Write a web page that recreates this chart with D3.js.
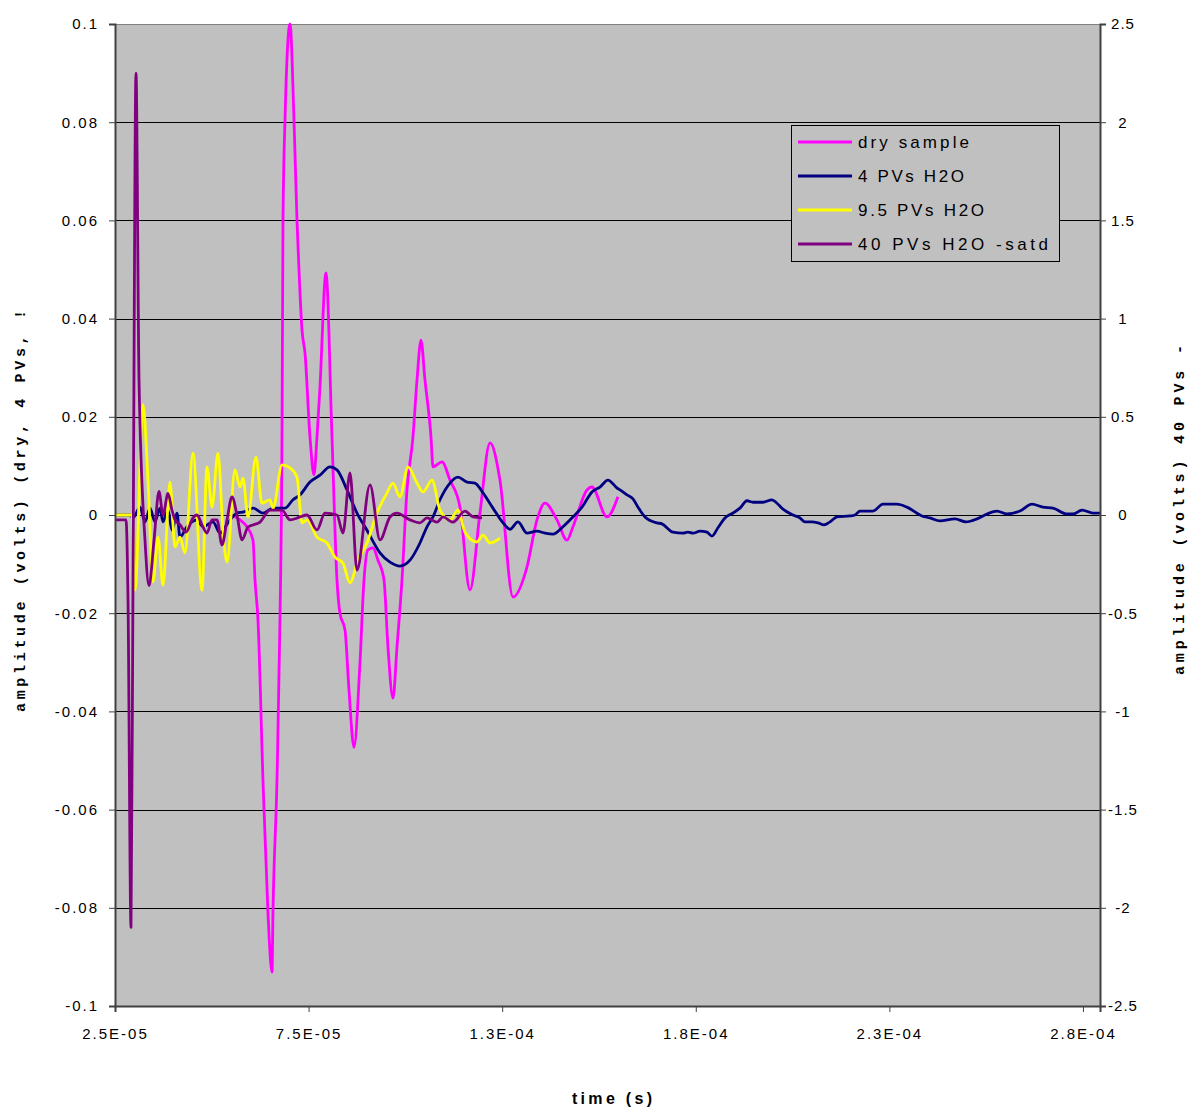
<!DOCTYPE html>
<html><head><meta charset="utf-8">
<script src="https://cdn.jsdelivr.net/npm/d3@7"></script>
<style>body{margin:0;background:#fff}</style></head>
<body><svg id="c" width="1190" height="1110"></svg>
<script>
// time in microseconds
const seriesNames = ["dry sample", "4 PVs H2O", "9.5 PVs H2O", "40 PVs H2O -satd"];
const seriesColors = ["#FF00FF", "#000080", "#FFFF00", "#800080"];

const pinkT = [55.22,57.28,59.09,60.64,61.16,61.93,63.22,64.51,65.55,65.80,66.84,67.61,68.13,68.39,68.91,70.20,71.23,72.00,72.52,73.30,74.07,75.36,76.39,77.17,77.94,79.49,81.04,82.33,83.10,84.40,85.43,86.72,88.27,89.31,90.34,91.63,92.92,94.47,95.50,96.80,97.83,99.12,100.41,101.96,103.00,104.03,105.06,106.61,107.13,109.45,111.52,114.10,116.68,119.26,121.85,124.43,127.79,131.40,133.99,136.05,139.15,141.73,143.28,146.90,148.19,152.06,154.90];
const pinkV = [0,-0.0010,-0.0024,-0.0051,-0.0132,-0.0214,-0.0540,-0.0811,-0.0931,-0.0811,-0.0540,-0.0214,0.0159,0.0601,0.0805,0.1000,0.0805,0.0601,0.0499,0.0377,0.0330,0.0159,0.0082,0.0159,0.0261,0.0493,0.0159,-0.0132,-0.0200,-0.0234,-0.0356,-0.0473,-0.0301,-0.0132,-0.0071,-0.0067,-0.0092,-0.0132,-0.0269,-0.0373,-0.0269,-0.0132,0.0051,0.0159,0.0275,0.0356,0.0275,0.0159,0.0098,0.0108,0.0071,0.0016,-0.0153,0.0004,0.0147,0.0071,-0.0167,-0.0106,-0.0010,0.0024,-0.0010,-0.0051,-0.0024,0.0051,0.0057,-0.0004,0.0037];

const navyT = [25.00,28.87,29.65,31.46,32.75,34.04,35.33,36.62,37.40,38.69,39.72,41.01,41.79,43.59,46.18,47.73,50.31,52.12,54.18,56.51,58.06,60.64,63.22,65.80,68.90,70.97,72.78,75.36,77.94,80.53,82.33,84.92,87.50,90.08,93.44,96.02,98.60,101.19,103.77,105.58,107.13,108.93,111.52,113.58,115.91,117.97,120.04,122.62,125.21,127.01,129.08,131.40,133.99,136.05,138.12,140.70,143.28,145.61,148.19,150.26,152.32,154.65,155.42,157.23,158.78,160.07,161.88,164.98,166.27,169.11,171.69,172.98,174.27,176.08,177.89,179.18,180.73,182.54,184.60,186.41,188.22,189.77,192.35,194.68,195.97,197.52,200.10,201.91,203.20,205.01,206.56,208.11,209.66,211.46,214.82,216.11,217.40,220.76,223.34,226.96,229.54,233.42,235.48,238.06,241.94,244.78,247.62,250.20,252.79,255.37,258.73,261.82,264.67,267.25,270.87,272.42,274.74,277.58,279.39];
const navyV = [0,0,-0.0006,0.0016,-0.0014,0.0014,-0.0014,0.0014,-0.0014,0.0010,-0.0031,0.0004,-0.0045,-0.0024,-0.0010,-0.0024,-0.0014,-0.0037,-0.0016,0.0004,0.0006,0.0014,0.0004,0.0014,0.0014,0.0031,0.0041,0.0067,0.0081,0.0098,0.0092,0.0051,0.0004,-0.0031,-0.0077,-0.0096,-0.0104,-0.0092,-0.0057,-0.0024,-0.0004,0.0031,0.0065,0.0077,0.0067,0.0065,0.0045,0.0014,-0.0016,-0.0029,-0.0014,-0.0037,-0.0033,-0.0037,-0.0039,-0.0024,-0.0004,0.0016,0.0047,0.0057,0.0071,0.0055,0.0051,0.0041,0.0033,0.0016,-0.0004,-0.0016,-0.0018,-0.0035,-0.0037,-0.0035,-0.0037,-0.0033,-0.0035,-0.0043,-0.0026,-0.0006,0.0004,0.0014,0.0029,0.0026,0.0026,0.0031,0.0024,0.0012,0,-0.0006,-0.0014,-0.0014,-0.0016,-0.0020,-0.0014,-0.0004,-0.0002,0,0.0008,0.0008,0.0022,0.0022,0.0016,-0.0002,-0.0006,-0.0012,-0.0008,-0.0014,-0.0008,0.0002,0.0008,0.0002,0.0008,0.0022,0.0016,0.0014,0.0002,0.0002,0.0010,0.0004,0.0004];

const yellowT = [25.00,29.39,30.17,32.23,33.52,34.81,36.11,37.40,39.20,40.50,41.79,43.08,45.14,47.47,48.76,50.05,51.60,52.89,53.93,55.99,57.28,58.06,59.35,61.41,62.96,65.03,65.81,68.13,70.20,72.00,73.30,74.59,77.17,79.75,81.82,83.88,85.69,87.76,90.08,92.66,95.25,96.80,98.60,100.67,103.00,104.54,106.87,108.93,111.52,113.58,115.39,118.49,120.04,121.85,124.43];
const yellowV = [0,0,-0.0153,0.0224,0.0071,-0.0136,-0.0045,-0.0143,0.0067,-0.0065,-0.0045,-0.0077,0.0126,-0.0153,0.0098,0.0016,0.0126,-0.0031,-0.0096,0.0092,0.0057,0.0075,-0.0004,0.0118,0.0024,0.0031,0.0014,0.0102,0.0096,0.0077,-0.0016,-0.0010,-0.0045,-0.0057,-0.0086,-0.0098,-0.0138,-0.0092,-0.0057,0.0004,0.0045,0.0065,0.0037,0.0098,0.0065,0.0047,0.0071,0.0010,-0.0010,0.0010,-0.0035,-0.0055,-0.0041,-0.0057,-0.0047];

const purpleT = [25.00,27.84,28.36,29.13,29.65,30.42,31.20,32.75,33.78,35.07,36.36,37.40,38.69,39.72,40.50,41.79,43.34,45.14,46.18,47.47,48.76,50.05,51.34,52.63,53.93,55.22,56.51,57.80,59.35,62.45,65.03,68.13,70.20,72.78,74.59,77.17,79.23,82.33,83.88,85.69,87.50,90.86,93.44,96.02,97.83,101.19,103.77,105.58,108.16,109.71,112.29,115.39,117.46,119.78];
const purpleV = [-0.025,-0.025,-0.43,-2.10,-0.33,2.25,0.69,-0.13,-0.36,-0.13,0.12,0.00,0.11,0.025,-0.025,-0.05,-0.087,-0.015,0.00,-0.05,-0.092,-0.025,-0.025,-0.153,-0.025,0.092,0.00,-0.127,-0.061,-0.036,0.025,0.025,-0.025,-0.01,0.00,-0.076,0.01,0.00,-0.092,0.214,-0.28,0.153,-0.127,-0.01,0.01,-0.025,-0.04,-0.015,-0.036,-0.01,-0.036,0.02,-0.01,-0.015];

const leftTicks = [0.1,0.08,0.06,0.04,0.02,0,-0.02,-0.04,-0.06,-0.08,-0.1];
const leftTickLabels = ["0.1","0.08","0.06","0.04","0.02","0","-0.02","-0.04","-0.06","-0.08","-0.1"];
const rightTicks = [2.5,2,1.5,1,0.5,0,-0.5,-1,-1.5,-2,-2.5];
const rightTickLabels = ["2.5","2","1.5","1","0.5","0","-0.5","-1","-1.5","-2","-2.5"];
const xTicks = [25,75,125,175,225,275];
const xTickLabels = ["2.5E-05","7.5E-05","1.3E-04","1.8E-04","2.3E-04","2.8E-04"];

const L=115,R=1100,T=24,B=1006;
const svg=d3.select("#c");
const x=d3.scaleLinear().domain([25,279.4]).range([L,R]);
const yL=d3.scaleLinear().domain([-0.1,0.1]).range([B,T]);
const yR=d3.scaleLinear().domain([-2.5,2.5]).range([B,T]);

svg.append("rect").attr("x",L).attr("y",T).attr("width",R-L).attr("height",B-T).attr("fill","#C0C0C0");
svg.append("g").selectAll("line").data(leftTicks).join("line")
  .attr("x1",L).attr("x2",R).attr("y1",d=>Math.round(yL(d))+0.5).attr("y2",d=>Math.round(yL(d))+0.5)
  .attr("stroke",(d,i)=>i===0?"#808080":"#000").attr("stroke-width",1);

svg.append("defs").append("clipPath").attr("id","clip").append("rect")
  .attr("x",L).attr("y",T-2).attr("width",R-L).attr("height",B-T+2);

const series=[
  {t:pinkT,v:pinkV,y:yL,c:seriesColors[0]},
  {t:navyT,v:navyV,y:yL,c:seriesColors[1]},
  {t:yellowT,v:yellowV,y:yL,c:seriesColors[2]},
  {t:purpleT,v:purpleV,y:yR,c:seriesColors[3]}
];
const g=svg.append("g").attr("clip-path","url(#clip)");
series.forEach(s=>{
  const pts=s.t.map((t,i)=>[t,s.v[i]]);
  const line=d3.line().x(d=>x(d[0])).y(d=>s.y(d[1])).curve(d3.curveMonotoneX);
  g.append("path").attr("d",line(pts)).attr("fill","none").attr("stroke",s.c)
   .attr("stroke-width",2.8).attr("stroke-linejoin","round");
});

const tickFont="'Liberation Sans', Arial, sans-serif";
const ax=svg.append("g").attr("transform",`translate(${L},0)`)
  .call(d3.axisLeft(yL).tickValues(leftTicks).tickFormat((d,i)=>leftTickLabels[i]).tickSize(6).tickPadding(10));
ax.select(".domain").attr("stroke","#404040").attr("stroke-width",2);
ax.selectAll(".tick line").attr("stroke","#404040");
ax.selectAll("text").attr("font-family",tickFont).attr("font-size",15).attr("letter-spacing","2px").attr("fill","#000");

const ar=svg.append("g").attr("transform",`translate(${R},0)`)
  .call(d3.axisRight(yR).tickValues(rightTicks).tickFormat((d,i)=>rightTickLabels[i]).tickSize(6).tickPadding(8));
ar.select(".domain").attr("stroke","#404040").attr("stroke-width",2);
ar.selectAll(".tick line").attr("stroke","#404040");
ar.selectAll("text").attr("font-family",tickFont).attr("font-size",15).attr("letter-spacing","1px").attr("fill","#000")
  .attr("text-anchor","middle").attr("x",23);

const ab=svg.append("g").attr("transform",`translate(0,${B})`)
  .call(d3.axisBottom(x).tickValues(xTicks).tickFormat((d,i)=>xTickLabels[i]).tickSize(6).tickPadding(16));
ab.select(".domain").attr("stroke","#404040").attr("stroke-width",2);
ab.selectAll(".tick line").attr("stroke","#404040");
ab.selectAll("text").attr("font-family",tickFont).attr("font-size",15).attr("letter-spacing","2px").attr("fill","#000");

const titleFont="'Liberation Mono', 'Courier New', monospace";
svg.append("text").attr("transform","translate(25,511) rotate(-90)").attr("text-anchor","middle")
  .attr("font-family",titleFont).attr("font-weight","bold").attr("font-size",15)
  .attr("textLength",402).attr("lengthAdjust","spacing")
  .text("amplitude (volts) (dry, 4 PVs, !");
svg.append("text").attr("transform","translate(1184,510) rotate(-90)").attr("text-anchor","middle")
  .attr("font-family",titleFont).attr("font-weight","bold").attr("font-size",15)
  .attr("textLength",330).attr("lengthAdjust","spacing")
  .text("amplitude (volts) 40 PVs -");
svg.append("text").attr("x",612).attr("y",1104).attr("text-anchor","middle")
  .attr("font-family",tickFont).attr("font-weight","bold").attr("font-size",16)
  .attr("textLength",80).attr("lengthAdjust","spacing")
  .text("time (s)");

const lg=svg.append("g");
lg.append("rect").attr("x",791.5).attr("y",125.5).attr("width",268).attr("height",136)
  .attr("fill","#C0C0C0").attr("stroke","#000").attr("stroke-width",1);
const legY=[142,176,210,244];
const legLen=[111,106,126,190];
seriesNames.forEach((n,i)=>{
  lg.append("line").attr("x1",798).attr("x2",852).attr("y1",legY[i]).attr("y2",legY[i])
    .attr("stroke",seriesColors[i]).attr("stroke-width",2.8);
  lg.append("text").attr("x",858).attr("y",legY[i]+6).attr("font-family",tickFont).attr("font-size",17)
    .attr("textLength",legLen[i]).attr("lengthAdjust","spacing").attr("fill","#000").text(n);
});
</script></body></html>
